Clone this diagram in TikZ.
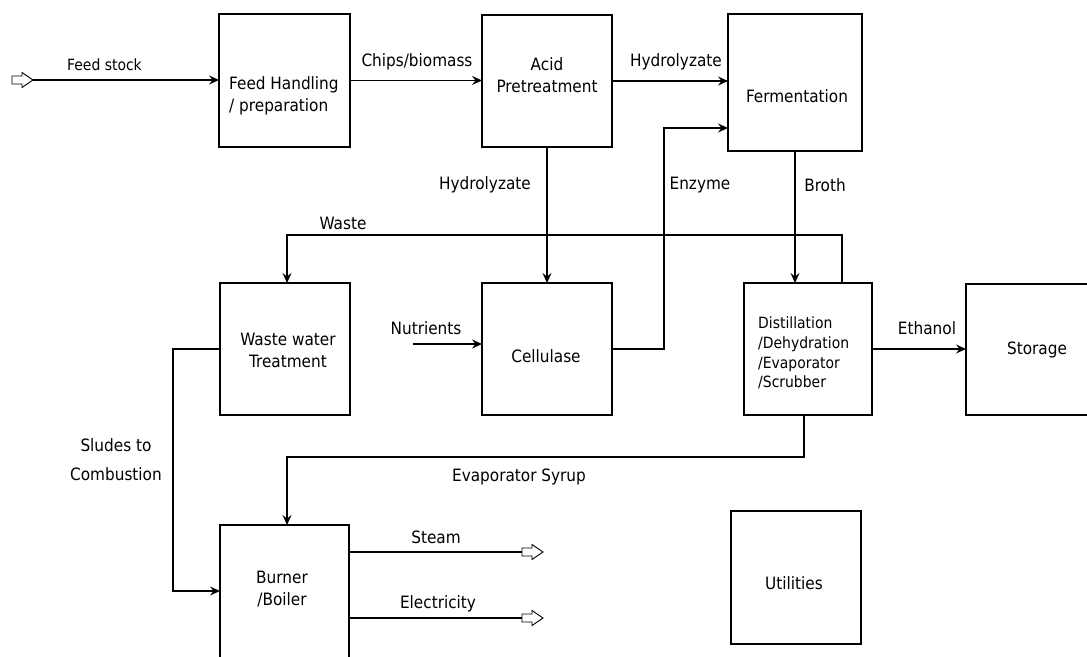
\documentclass[tikz,border=0pt]{standalone}
\usepackage{fontspec}
\setmainfont{DejaVu Sans Condensed}
\usetikzlibrary{arrows.meta}
\begin{document}
\begin{tikzpicture}[x=1pt,y=-1pt,
  box/.style={draw,line width=1.2pt,inner sep=0pt,outer sep=0pt},
  txt/.style={inner sep=0pt,font=\fontsize{17}{22}\selectfont,align=center},
  smalltxt/.style={inner sep=0pt,font=\fontsize{15.5}{19.7}\selectfont},
  flow/.style={line width=1.1pt,-{Stealth[length=10pt,width=9pt,inset=3.5pt]}},
  line/.style={line width=1.1pt},
  openpoly/.style={draw,line width=0.9pt,fill=white,line join=miter}]
\useasboundingbox[fill=white] (0,0) rectangle (1087,656);

% boxes
\node[box,minimum width=131pt,minimum height=133pt] (fh) at (284.5,80.5) {};
\node[box,minimum width=130pt,minimum height=132pt] (acid) at (547,81) {};
\node[box,minimum width=134pt,minimum height=137pt] (ferm) at (795,82.5) {};
\node[box,minimum width=130pt,minimum height=132pt] (ww) at (285,349) {};
\node[box,minimum width=130pt,minimum height=132pt] (cell) at (547,349) {};
\node[box,minimum width=128pt,minimum height=132pt] (dist) at (808,349) {};
\node[box,minimum width=142pt,minimum height=131pt] (stor) at (1037,349.5) {};
\node[box,minimum width=129pt,minimum height=145pt] (burn) at (284.5,597.5) {};
\node[box,minimum width=130pt,minimum height=133pt] (util) at (796,577.5) {};

% box texts
\node[txt,anchor=west,align=left] (fht) at (229,96) {Feed Handling\\/ preparation};
\node[txt] (acidt) at (547,75) {Acid\\Pretreatment};
\node[txt] (fermt) at (797,96) {Fermentation};
\node[txt] (wwt) at (288,350) {Waste water\\Treatment};
\node[txt] (cellt) at (546,356) {Cellulase};
\node[smalltxt,anchor=west,align=left] (distt) at (758,353) {Distillation\\/Dehydration\\/Evaporator\\/Scrubber};
\node[txt] (stort) at (1037,350) {Storage};
\node[txt] (burnt) at (282,589) {Burner\\/Boiler};
\node[txt] (utilt) at (794,583) {Utilities};

% open arrows (tail points)
\coordinate (feedin) at (12,80);
\coordinate (feedtip) at (33,80);
\coordinate (steam) at (522,552);
\coordinate (elec) at (522,618);
\foreach \p in {feedin,steam,elec}
  \draw[openpoly] (\p) ++(0,-4) -- ++(10,0) -- ++(0,-3.5) -- ++(11,7.5) -- ++(-11,7.5) -- ++(0,-3.5) -- ++(-10,0) -- cycle;

% helper coordinates
\coordinate (ez) at (664,128);
\coordinate (wl) at (287,235);
\coordinate (nu) at (413,344);
\coordinate (sb) at (173,591);
\coordinate (ev) at (287,457);

% connectors
\draw[flow] (feedtip) -- (feedtip -| fh.west);
\draw[flow] (fh.east) -- (fh.east -| acid.west);
\draw[flow] (acid.east) -- (acid.east -| ferm.west);
\draw[flow] (acid.south) -- (cell.north);
\draw[flow] (cell.east) -| (ez) -- (ez -| ferm.west);
\draw[flow] (ferm.south) -- (ferm.south |- dist.north);
\draw[flow] ([xshift=34pt]dist.north) |- (wl) -- (wl |- ww.north);
\draw[flow] (nu) -- (nu -| cell.west);
\draw[flow] (dist.east) -- (dist.east -| stor.west);
\draw[flow] (ww.west) -- (ww.west -| sb) -- (sb) -- (sb -| burn.west);
\draw[flow] ([xshift=-4pt]dist.south) |- (ev) -- (ev |- burn.north);
\draw[line] (steam -| burn.east) -- (steam);
\draw[line] (elec -| burn.east) -- (elec);

% labels
\node[smalltxt] (lfeed) at (104.5,65) {Feed stock};
\node[txt] (lchips) at (417,62) {Chips/biomass};
\node[txt] (lhyd1) at (676,62) {Hydrolyzate};
\node[txt] (lhyd2) at (485,185) {Hydrolyzate};
\node[txt] (lenz) at (700,185) {Enzyme};
\node[txt] (lbroth) at (825,185) {Broth};
\node[txt] (lwaste) at (343,223) {Waste};
\node[txt] (lnut) at (426,328) {Nutrients};
\node[txt] (leth) at (927,328) {Ethanol};
\node[txt,font=\fontsize{17}{29}\selectfont] (lsl) at (116,460) {Sludes to\\Combustion};
\node[txt] (levap) at (519,477) {Evaporator Syrup};
\node[txt] (lsteam) at (436,537) {Steam};
\node[txt] (lelec) at (438,604) {Electricity};
\end{tikzpicture}
\end{document}
